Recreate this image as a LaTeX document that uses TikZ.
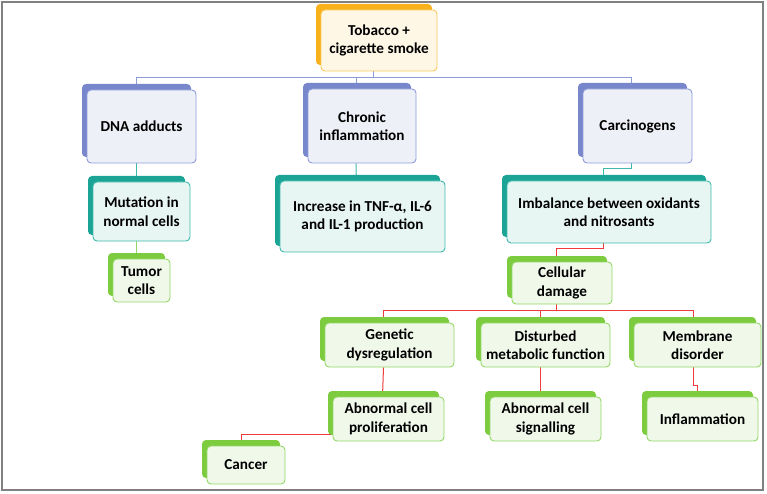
\documentclass[tikz,border=0pt]{standalone}
\usepackage{fontspec}
\setmainfont{Carlito}
\usetikzlibrary{shadows,backgrounds}
\definecolor{orgback}{HTML}{F9B11B}
\definecolor{orgfill}{HTML}{FEF7E6}
\definecolor{orgline}{HTML}{F8C859}
\definecolor{bluback}{HTML}{7886CB}
\definecolor{blufill}{HTML}{EEF0F7}
\definecolor{bluline}{HTML}{8C9BD9}
\definecolor{tealback}{HTML}{1BA396}
\definecolor{tealfill}{HTML}{E7F5F3}
\definecolor{tealline}{HTML}{3DBAAC}
\definecolor{grnback}{HTML}{7DCB3F}
\definecolor{grnfill}{HTML}{F0F8EA}
\definecolor{grnline}{HTML}{92D865}
\definecolor{redline}{HTML}{EE3B3B}
\tikzset{box/.style={rounded corners=4pt, align=center, inner sep=1pt, line width=0.9pt,
		font=\bfseries\fontsize{15.2}{18.5}\selectfont},
	sz/.style 2 args={minimum width=#1pt, minimum height=#2pt},
	orgbox/.style={box, draw=orgline, fill=orgfill,
		general shadow={fill=orgback, shadow xshift=-5pt, shadow yshift=6pt}},
	blubox/.style={box, draw=bluline, fill=blufill,
		general shadow={fill=bluback, shadow xshift=-5pt, shadow yshift=6pt}},
	tealbox/.style={box, draw=tealline, fill=tealfill,
		general shadow={fill=tealback, shadow xshift=-5pt, shadow yshift=6pt}},
	grnbox/.style={box, draw=grnline, fill=grnfill,
		general shadow={fill=grnback, shadow xshift=-5pt, shadow yshift=6pt}},
	bline/.style={draw=bluline, line width=1pt},
	tline/.style={draw=tealline, line width=1pt},
	rline/.style={draw=redline, line width=1pt}}

\begin{document}
\begin{tikzpicture}[x=1pt,y=-1pt]
		\useasboundingbox (0,0) rectangle (767,494);
		\draw[gray, line width=1.2pt] (2,2) rectangle (763,490);
		% top
		\node[orgbox, sz={116}{61}] (tob) at (379,40.5){Tobacco +\\cigarette smoke};
		% first level
		\node[blubox, sz={109}{73}] (dna) at (141.5,126.5){DNA adducts};
		\node[blubox, sz={108}{74}] (chr) at (362,126){Chronic\\inflammation};
		\node[blubox, sz={109}{74}] (car) at (637.5,126){Carcinogens};
		% second level
		\node[tealbox, sz={97}{59}] (mut) at (141.5,211.5){Mutation in\\normal cells};
		\node[tealbox, sz={165}{71}] (tnf) at (362.5,216.5){Increase in TNF-α, IL-6\\and IL-1 production};
		\node[tealbox, sz={204}{62}] (imb) at (609,212){Imbalance between oxidants\\and nitrosants};
		\node[grnbox, sz={57}{43}] (tum) at (141.5,280.5){Tumor\\cells};
		\node[grnbox, sz={100}{42}] (cel) at (562,283){Cellular\\damage};
		% damage
		\node[grnbox, sz={129}{44}] (gen) at (389.5,345){Genetic\\dysregulation};
		\node[grnbox, sz={129}{44}] (dis) at (545.5,345){Disturbed\\metabolic function};
		\node[grnbox, sz={127}{44}] (mem) at (697.5,345){Membrane\\disorder};
		\node[grnbox, sz={111}{44}] (pro) at (388.5,419){Abnormal cell\\proliferation};
		\node[grnbox, sz={111}{44}] (sig) at (545.5,419){Abnormal cell\\signalling};
		\node[grnbox, sz={111}{44}] (inf) at (702.5,419){Inflammation};
		\node[grnbox, sz={78}{38}] (can) at (246,465){Cancer};
		
		\begin{scope}[on background layer]
		\draw[bline] ([xshift=-6pt]tob.south) -- ++(0,6) -| ([xshift=-5pt]dna.north);
		\draw[bline] ([xshift=-6pt]tob.south) -- ++(0,6) -| ([xshift=-6pt]chr.north);
		\draw[bline] ([xshift=-6pt]tob.south) -- ++(0,6) -| ([xshift=-6pt]car.north);
		\draw[tline] ([xshift=-5pt]dna.south) -- ([xshift=-5pt]mut.north);
		\draw[tline] ([xshift=-6pt]chr.south) -- ([xshift=-6pt,yshift=-5pt]tnf.north);
		\draw[tline] ([xshift=-6pt]car.south) -- ++(0,5) -| ([xshift=-6pt]imb.north);
		\draw[grnline, line width=1pt] ([xshift=-5pt]mut.south) -- ([xshift=-5pt]tum.north);
		\draw[rline] ([xshift=-6pt]imb.south) -- ++(0,5) -| ([xshift=-6pt]cel.north);
		\draw[rline] ([xshift=-6pt]cel.south) -- ++(0,6) -| ([xshift=-6pt]gen.north);
		\draw[rline] ([xshift=-6pt]cel.south) -- ++(0,6) -| ([xshift=-5pt]dis.north);
		\draw[rline] ([xshift=-6pt]cel.south) -- ++(0,6) -| ([xshift=-4pt]mem.north);
		\draw[rline] ([xshift=-6pt]gen.south) -- ([xshift=-6pt]pro.north);
		\draw[rline] ([xshift=-5pt]dis.south) -- ([xshift=-5pt]sig.north);
		\draw[rline] ([xshift=-4pt]mem.south) -- ++(0,18) -| ([xshift=-5pt]inf.north);
		\draw[rline] ([yshift=-15pt]pro.west) -| ([xshift=-5pt]can.north);
		\end{scope}
\end{tikzpicture}
\end{document}
